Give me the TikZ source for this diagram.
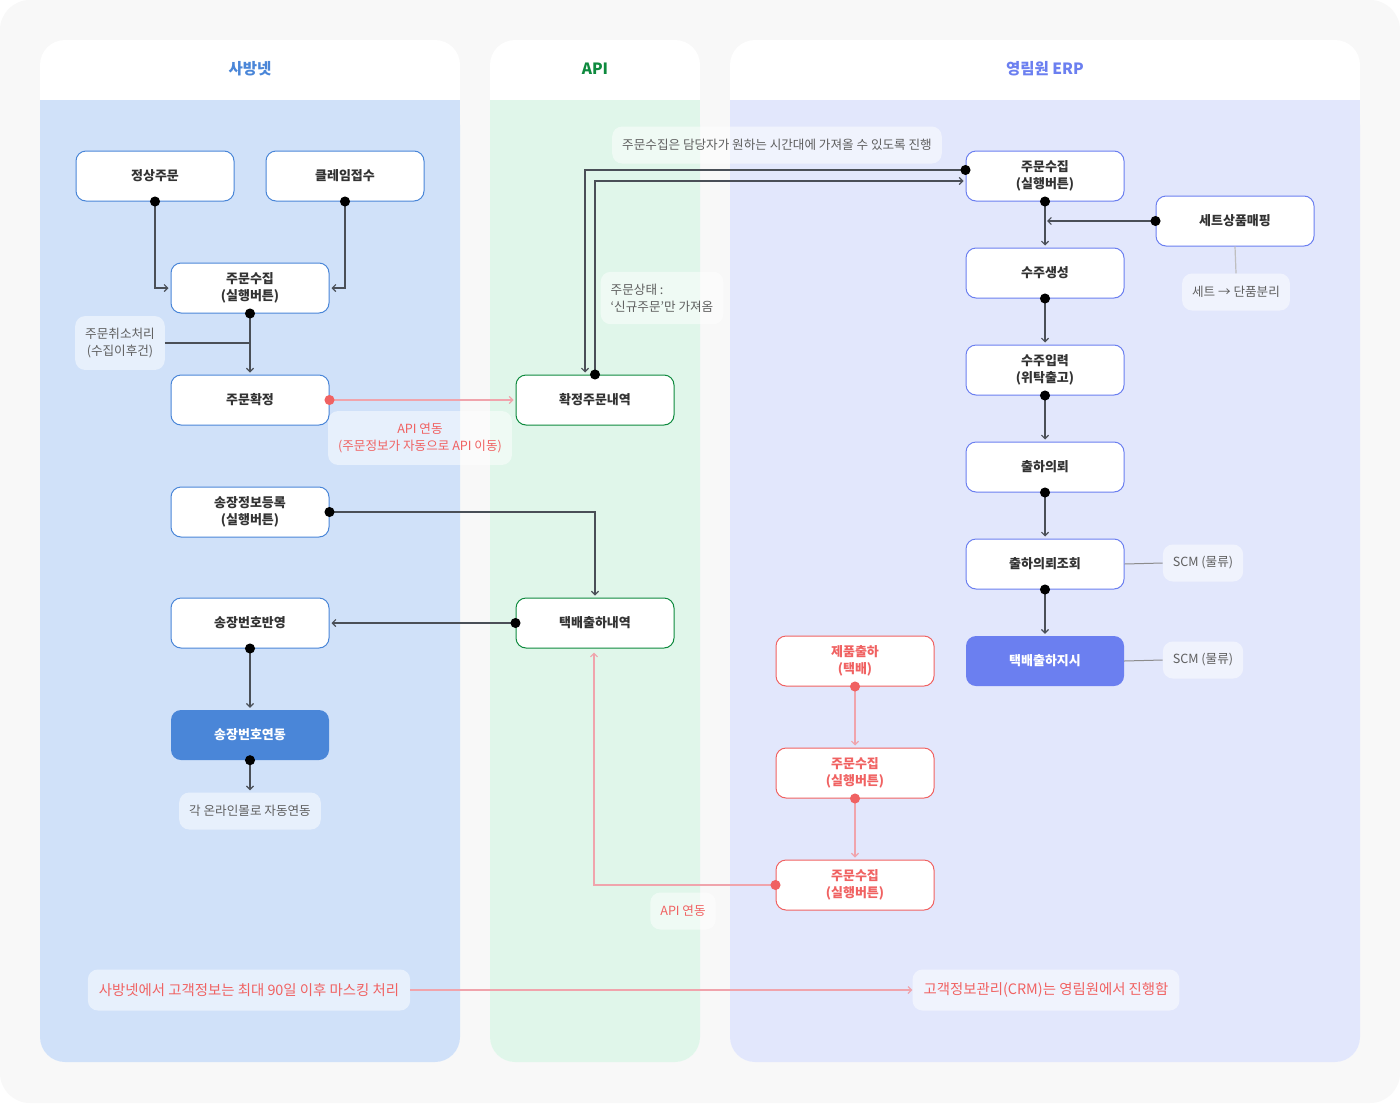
\documentclass[tikz,border=0pt]{standalone}
\usepackage{fontspec}
\setmainfont{Noto Sans CJK KR}
\usetikzlibrary{arrows.meta,positioning}

\definecolor{sbblue}{HTML}{4A86D8}
\definecolor{sbfill}{HTML}{D0E1F9}
\definecolor{apigreen}{HTML}{0E8A3E}
\definecolor{apifill}{HTML}{E0F6EA}
\definecolor{erpblue}{HTML}{6B7FF0}
\definecolor{erpfill}{HTML}{E2E7FC}
\definecolor{redtxt}{HTML}{F06262}
\definecolor{pinkline}{HTML}{F0A4AC}
\definecolor{txt}{HTML}{333333}
\definecolor{notetxt}{HTML}{5F5F5F}
\definecolor{wire}{HTML}{4A4F57}
\definecolor{outer}{HTML}{F8F8F8}

\begin{document}
\begin{tikzpicture}[x=1pt,y=-1pt,>={Straight Barb[length=3.5pt,width=7pt]},
  box/.style={draw=#1,fill=white,rounded corners=10pt,line width=1pt,minimum width=158pt,minimum height=50pt,align=center,text=txt,font=\fontsize{13}{17}\selectfont\bfseries},
  solid box/.style={fill=#1,rounded corners=10pt,minimum width=158pt,minimum height=50pt,align=center,text=white,font=\fontsize{13}{17}\selectfont\bfseries},
  note/.style={fill=white,fill opacity=0.5,text opacity=1,rounded corners=10pt,inner xsep=10pt,inner ysep=12pt,minimum height=37pt,align=center,text=notetxt,font=\fontsize{12.6}{17}\selectfont},
  big note/.style={note,text=redtxt,inner xsep=11pt,minimum height=41pt,font=\fontsize{14.4}{17}\selectfont},
  head/.style={font=\fontsize{15.5}{18}\selectfont\bfseries},
  link/.style={draw=wire,line width=1.2pt},
  dot/.style={link,{Circle[length=10pt,color=black]}->,shorten <=-5pt,shorten >=2pt},
  red dot/.style={draw=pinkline,line width=1.2pt,{Circle[length=10pt,color=redtxt]}->,shorten <=-5pt,shorten >=2pt}]
\useasboundingbox (0,0) rectangle (1400,1103);
\fill[white] (0,0) rectangle (1400,1103);
\fill[outer,rounded corners=30pt] (0,0) rectangle (1400,1103);

% lanes
\fill[white,rounded corners=25pt] (40,40) rectangle (460,1062);
\fill[sbfill,rounded corners=25pt] (40,100) rectangle (460,1062);
\fill[sbfill] (40,100) rectangle (460,140);
\fill[white,rounded corners=25pt] (490,40) rectangle (700,1062);
\fill[apifill,rounded corners=25pt] (490,100) rectangle (700,1062);
\fill[apifill] (490,100) rectangle (700,140);
\fill[white,rounded corners=25pt] (730,40) rectangle (1360,1062);
\fill[erpfill,rounded corners=25pt] (730,100) rectangle (1360,1062);
\fill[erpfill] (730,100) rectangle (1360,140);

\node[head,text=sbblue] (h1) at (250,69) {사방넷};
\node[head,text=apigreen] (h2) at (595,69) {API};
\node[head,text=erpblue] (h3) at (1045,69) {영림원 ERP};

% notes
\node[note] (cancel) at (120,343) {주문취소처리\\(수집이후건)};
\node[note,text=redtxt] (apinote) at (420,438) {API 연동\\(주문정보가 자동으로 API 이동)};
\node[note] (mallnote) at (250,811) {각 온라인몰로 자동연동};
\node[note] (timenote) at (777,145) {주문수집은 담당자가 원하는 시간대에 가져올 수 있도록 진행};
\node[note,align=left] (statenote) at (662,298) {주문상태 :\\‘신규주문'만 가져옴};
\node[note] (setnote) at (1236,292) {세트 → 단품분리};
\node[note] (scm1) at (1203,563) {SCM (물류)};
\node[note] (scm2) at (1203,660) {SCM (물류)};
\node[note,text=redtxt] (apilink) at (683,911) {API 연동};
\node[big note] (masknote) at (249,990) {사방넷에서 고객정보는 최대 90일 이후 마스킹 처리};
\node[big note] (crmnote) at (1046,990) {고객정보관리(CRM)는 영림원에서 진행함};

% 사방넷
\node[box=sbblue] (normal) at (155,176) {정상주문};
\node[box=sbblue] (claim) at (345,176) {클레임접수};
\node[box=sbblue] (collect) at (250,288) {주문수집\\(실행버튼)};
\node[box=sbblue] (confirm) at (250,400) {주문확정};
\node[box=sbblue] (invoice) at (250,512) {송장정보등록\\(실행버튼)};
\node[box=sbblue] (reflect) at (250,623) {송장번호반영};
\node[solid box=sbblue] (sync) at (250,735) {송장번호연동};

% API
\node[box=apigreen] (apiorder) at (595,400) {확정주문내역};
\node[box=apigreen] (apiship) at (595,623) {택배출하내역};

% 영림원 ERP
\node[box=erpblue] (erpcollect) at (1045,176) {주문수집\\(실행버튼)};
\node[box=erpblue] (setmap) at (1235,221) {세트상품매핑};
\node[box=erpblue] (create) at (1045,273) {수주생성};
\node[box=erpblue] (entry) at (1045,370) {수주입력\\(위탁출고)};
\node[box=erpblue] (request) at (1045,467) {출하의뢰};
\node[box=erpblue] (query) at (1045,564) {출하의뢰조회};
\node[solid box=erpblue] (shipcmd) at (1045,661) {택배출하지시};
\node[box=redtxt,text=redtxt] (product) at (855,661) {제품출하\\(택배)};
\node[box=redtxt,text=redtxt] (rcollect1) at (855,773) {주문수집\\(실행버튼)};
\node[box=redtxt,text=redtxt] (rcollect2) at (855,885) {주문수집\\(실행버튼)};

% connectors
\draw[dot] (normal.south) |- (collect.west);
\draw[dot] (claim.south) |- (collect.east);
\draw[dot] (collect.south) -- (confirm.north);
\draw[link] (cancel.east) -- (cancel.east -| collect.south);
\draw[red dot] (confirm.east) -- (apiorder.west);
\draw[dot] (invoice.east) -| (apiship.north);
\draw[dot] (apiship.west) -- (reflect.east);
\draw[dot] (reflect.south) -- (sync.north);
\draw[dot] (sync.south) -- (mallnote.north);

\draw[dot] ([yshift=6pt]erpcollect.west) -| ([xshift=-10pt]apiorder.north);
\draw[dot] (apiorder.north) |- ([yshift=-5pt]erpcollect.west);

\draw[dot] (erpcollect.south) -- (create.north);
\draw[dot] (setmap.west) -- (setmap.west -| erpcollect.south);
\draw[draw=black!25,line width=1.2pt] (setmap.south) -- (setnote.north);
\draw[dot] (create.south) -- (entry.north);
\draw[dot] (entry.south) -- (request.north);
\draw[dot] (request.south) -- (query.north);
\draw[dot] (query.south) -- (shipcmd.north);
\draw[draw=black!45,line width=1pt] (query.east) -- (scm1.west);
\draw[draw=black!45,line width=1pt] (shipcmd.east) -- (scm2.west);

\draw[red dot] (product.south) -- (rcollect1.north);
\draw[red dot] (rcollect1.south) -- (rcollect2.north);
\draw[red dot,shorten >=4pt] (rcollect2.west) -| ([xshift=-1pt]apiship.south);
\draw[draw=pinkline,line width=1.2pt,->] (masknote.east) -- (crmnote.west);
\end{tikzpicture}
\end{document}
